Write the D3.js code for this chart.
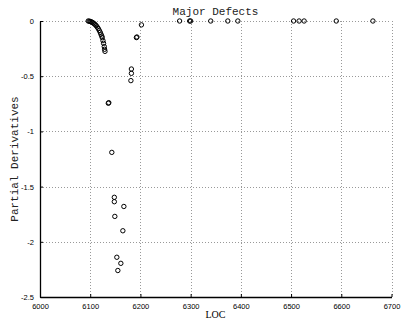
<!DOCTYPE html>
<html>
<head>
<meta charset="utf-8">
<script src="https://cdn.jsdelivr.net/npm/d3@7"></script>
<style>
  body { margin: 0; background: #fff; }
  .grid line { stroke: #999; stroke-width: 1; stroke-dasharray: 1,2; }
  .tickLabel { font-family: "Liberation Sans", Arial, sans-serif; font-size: 7.5px; fill: #000; }
</style>
</head>
<body>
<div id="majorDefects"></div>
<script>
// Chart data: LOC vs partial derivative
const locValues = [
  6096, 6098, 6100, 6102, 6104, 6106, 6108, 6110, 6112, 6114,
  6116, 6118, 6120, 6121.4, 6123, 6124, 6125.4, 6126.6, 6128, 6128.6, 6129.4,
  6137, 6136, 6192, 6193, 6202, 6182, 6182, 6181, 6143,
  6148, 6148, 6167, 6149, 6165, 6153, 6161, 6155,
  6278, 6298, 6300, 6340, 6374, 6394, 6505, 6516, 6526, 6590, 6663
];
const derivValues = [
  0, -0.002, -0.004, -0.008, -0.012, -0.018, -0.025, -0.033, -0.043, -0.055,
  -0.068, -0.085, -0.103, -0.12, -0.136, -0.151, -0.178, -0.202, -0.232, -0.256, -0.275,
  -0.74, -0.745, -0.15, -0.145, -0.035, -0.435, -0.474, -0.54, -1.19,
  -1.597, -1.637, -1.68, -1.77, -1.9, -2.14, -2.195, -2.26,
  0, 0, 0, 0, 0, 0, 0, 0, 0, 0, 0
];
const xTicks = [6000, 6100, 6200, 6300, 6400, 6500, 6600, 6700];
const yTicks = [0, -0.5, -1, -1.5, -2, -2.5];

const width = 401, height = 324;
const margin = { top: 21, right: 10, bottom: 27, left: 40 };
const innerW = width - margin.left - margin.right;
const innerH = height - margin.top - margin.bottom;

const svg = d3.select('#majorDefects')
  .append('svg')
  .attr('width', width)
  .attr('height', height);

const g = svg.append('g')
  .attr('transform', `translate(${margin.left},${margin.top})`);

const xScale = d3.scaleLinear().domain([6000, 6700]).range([0, innerW + 0.5]);
const yScale = d3.scaleLinear().domain([-2.5, 0]).range([innerH, 0]);

// dotted grid
const grid = g.append('g').attr('class', 'grid');
grid.selectAll('.vg').data(xTicks.slice(1)).join('line')
  .attr('x1', d => Math.round(xScale(d)) + 0.5).attr('x2', d => Math.round(xScale(d)) + 0.5)
  .attr('y1', 0).attr('y2', innerH);
grid.selectAll('.hg').data(yTicks.slice(0, -1)).join('line')
  .attr('x1', 0).attr('x2', innerW)
  .attr('y1', d => Math.round(yScale(d)) + 0.5).attr('y2', d => Math.round(yScale(d)) + 0.5);

// axes (ticks pointing inward)
const xAxis = g.append('g')
  .attr('transform', `translate(0,${innerH})`)
  .call(d3.axisBottom(xScale).tickValues(xTicks).tickSize(-3).tickSizeOuter(0).tickPadding(7)
    .tickFormat(d3.format('d')));
const yAxis = g.append('g')
  .call(d3.axisLeft(yScale).tickValues(yTicks).tickSize(-3).tickSizeOuter(0).tickPadding(6)
    .tickFormat(d => d === 0 ? '0' : String(d)));
[xAxis, yAxis].forEach(a => {
  a.select('.domain').attr('stroke', '#000').attr('stroke-width', 1.3);
  a.selectAll('.tick line').attr('stroke', '#000');
  a.selectAll('.tick text').attr('class', 'tickLabel').attr('font-size', null).attr('font-family', null);
});

// markers
const points = locValues.map((x, i) => ({ x: x, y: derivValues[i] }));
g.append('g').selectAll('circle').data(points).join('circle')
  .attr('cx', d => xScale(d.x))
  .attr('cy', d => yScale(d.y))
  .attr('r', 2.2)
  .attr('fill', 'none')
  .attr('stroke', '#000')
  .attr('stroke-width', 1);

// title & labels
svg.append('text')
  .attr('x', margin.left + innerW / 2).attr('y', 15)
  .attr('text-anchor', 'middle')
  .attr('font-family', '"Liberation Mono", "DejaVu Sans Mono", monospace')
  .attr('font-size', 11)
  .attr('fill', '#222')
  .text('Major Defects');

svg.append('text')
  .attr('transform', `translate(18,${margin.top + innerH / 2}) rotate(-90)`)
  .attr('text-anchor', 'middle')
  .attr('font-family', '"Liberation Mono", "DejaVu Sans Mono", monospace')
  .attr('font-size', 11)
  .attr('fill', '#222')
  .text('Partial Derivatives');

svg.append('text')
  .attr('x', margin.left + innerW / 2).attr('y', 318)
  .attr('text-anchor', 'middle')
  .attr('font-family', '"Liberation Serif", "Times New Roman", serif')
  .attr('font-size', 10)
  .text('LOC');
</script>
</body>
</html>
